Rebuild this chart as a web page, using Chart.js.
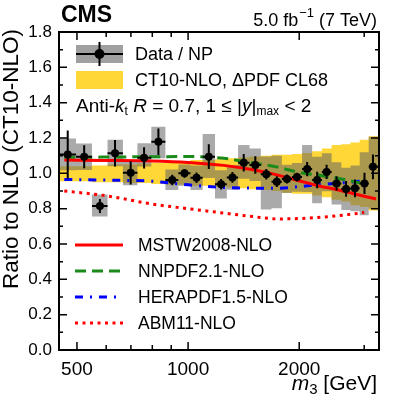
<!DOCTYPE html>
<html>
<head>
<meta charset="utf-8">
<script src="https://cdn.jsdelivr.net/npm/chart.js@4.4.1/dist/chart.umd.min.js"></script>
<style>
  html, body { margin: 0; padding: 0; background: #fff; }
  #wrap { width: 399px; height: 399px; }
</style>
</head>
<body>
<div id="wrap"><canvas id="ratioChart"></canvas></div>
<script>
// m3 bins [GeV]
const binEdges = [447, 497, 549, 605, 666, 729, 795, 868, 941, 1015, 1095, 1183, 1273, 1366,
  1467, 1574, 1683, 1795, 1912, 2036, 2168, 2304, 2448, 2601, 2754, 2917, 3085, 3290];
const binCenters = [472, 523, 577, 634, 699, 760, 831, 906, 978, 1054, 1138, 1229, 1319, 1415,
  1521, 1629, 1739, 1853, 1972, 2102, 2237, 2373, 2525, 2679, 2832, 3005, 3168];

// data / NP over CT10-NLO
const dataRatio = [1.107, 1.094, 0.815, 1.113, 1.003, 1.088, 1.179, 0.962, 1.0, 0.975, 1.094, 0.938, 0.977, 1.06,
  1.047, 0.995, 0.953, 0.968, 0.979, 1.024, 0.962, 1.008, 0.943, 0.912, 0.915, 0.943, 1.037];
const statErr = [0.136, 0.065, 0.04, 0.075, 0.066, 0.06, 0.075, 0.03, 0.025, 0.03, 0.07, 0.03, 0.03, 0.05,
  0.05, 0.03, 0.03, 0.025, 0.025, 0.04, 0.047, 0.04, 0.04, 0.045, 0.05, 0.06, 0.07];
const sysUp = [0.09, 0.075, 0.065, 0.077, 0.072, 0.082, 0.085, 0.06, 0.05, 0.07, 0.128, 0.08, 0.07, 0.1,
  0.093, 0.1, 0.147, 0.08, 0.08, 0.136, 0.132, 0.105, 0.12, 0.12, 0.13, 0.177, 0.17];
const sysDown = [0.09, 0.075, 0.06, 0.073, 0.07, 0.05, 0.094, 0.057, 0.07, 0.07, 0.12, 0.08, 0.07, 0.09,
  0.09, 0.2, 0.15, 0.08, 0.083, 0.13, 0.132, 0.11, 0.12, 0.12, 0.13, 0.18, 0.237];

// CT10-NLO PDF uncertainty (CL68)
const pdfLow = [0.955, 0.955, 0.95, 0.95, 0.945, 0.945, 0.94, 0.935, 0.935, 0.93, 0.93, 0.925, 0.92, 0.915,
  0.91, 0.905, 0.9, 0.89, 0.885, 0.885, 0.875, 0.865, 0.85, 0.84, 0.82, 0.81, 0.79];
const pdfHigh = [1.04, 1.04, 1.045, 1.05, 1.05, 1.055, 1.06, 1.07, 1.07, 1.075, 1.075, 1.08, 1.085, 1.09,
  1.095, 1.1, 1.105, 1.105, 1.11, 1.115, 1.125, 1.14, 1.16, 1.165, 1.175, 1.19, 1.21];

// other PDF sets / CT10-NLO
const theoryMass = [462, 600, 800, 1000, 1250, 1500, 1750, 2000, 2250, 2500, 2750, 3000, 3230];
const mstw   = [1.075, 1.073, 1.07, 1.062, 1.045, 1.02, 0.99, 0.958, 0.93, 0.91, 0.89, 0.87, 0.855];
const nnpdf  = [1.09, 1.092, 1.094, 1.095, 1.085, 1.058, 1.035, 1.005, 0.99, 0.975, 0.958, 0.94, null];
const herapdf = [0.965, 0.962, 0.955, 0.935, 0.92, 0.916, 0.915, 0.925, 0.935, 0.942, 0.95, 0.957, null];
const abm11  = [0.9, 0.873, 0.826, 0.8, 0.775, 0.755, 0.742, 0.744, 0.75, 0.758, 0.768, 0.778, null];

const xMajorTicks = [500, 1000, 2000];
const xMinorTicks = [600, 700, 800, 900, 3000];

function stepBand(values) {
  const pts = [];
  values.forEach((v, i) => {
    pts.push({x: binEdges[i], y: v}, {x: binEdges[i + 1], y: v});
  });
  return pts;
}
function curve(values) {
  return theoryMass.map((m, i) => ({x: m, y: values[i]}));
}

const errBars = [];
dataRatio.forEach((v, i) => {
  const c = binCenters[i];
  errBars.push({x: c, y: v - statErr[i]}, {x: c, y: v + statErr[i]}, {x: c, y: null});
  errBars.push({x: binEdges[i], y: v}, {x: binEdges[i + 1], y: v}, {x: binEdges[i + 1], y: null});
});

const YELLOW = '#ffd736';
const GRAY = 'rgba(100,100,100,0.55)';

const decor = {
  id: 'decor',
  afterDraw(chart) {
    const {ctx, chartArea: a, scales: {x, y}} = chart;
    ctx.save();
    ctx.strokeStyle = '#000';
    ctx.fillStyle = '#000';

    // inward ticks, all four sides
    ctx.lineWidth = 1.5;
    ctx.beginPath();
    const xt = xMajorTicks.map(v => [v, 8]).concat(xMinorTicks.map(v => [v, 5]));
    xt.forEach(([v, len]) => {
      const px = x.getPixelForValue(v);
      ctx.moveTo(px, a.bottom); ctx.lineTo(px, a.bottom - len);
      ctx.moveTo(px, a.top); ctx.lineTo(px, a.top + len);
    });
    for (let k = 1; k < 18; k++) {
      const py = y.getPixelForValue(k / 10);
      const len = k % 2 === 0 ? 8 : 4;
      ctx.moveTo(a.left, py); ctx.lineTo(a.left + len, py);
      ctx.moveTo(a.right, py); ctx.lineTo(a.right - len, py);
    }
    ctx.stroke();

    // frame
    ctx.lineWidth = 2;
    ctx.strokeRect(a.left, a.top, a.right - a.left, a.bottom - a.top);

    const F = 'Liberation Sans, Arial, sans-serif';

    // header
    ctx.textBaseline = 'alphabetic';
    ctx.textAlign = 'left';
    ctx.font = 'bold 23px ' + F;
    ctx.fillText('CMS', 61, 22);

    ctx.textAlign = 'right';
    ctx.font = '18px ' + F;
    let rx = 377;
    ctx.fillText(' (7 TeV)', rx, 26);
    rx -= ctx.measureText(' (7 TeV)').width;
    ctx.font = '13px ' + F;
    ctx.fillText('\u22121', rx, 17);
    rx -= ctx.measureText('\u22121').width + 1;
    ctx.font = '18px ' + F;
    ctx.fillText('5.0 fb', rx, 26);

    // x title
    ctx.font = '21px ' + F;
    rx = 377;
    ctx.fillText(' [GeV]', rx, 390);
    rx -= ctx.measureText(' [GeV]').width;
    ctx.font = '15px ' + F;
    ctx.fillText('3', rx, 394);
    rx -= ctx.measureText('3').width;
    ctx.font = 'italic 21px ' + F;
    ctx.fillText('m', rx, 390);

    // y title
    ctx.save();
    ctx.translate(12, 29);
    ctx.rotate(-Math.PI / 2);
    ctx.textAlign = 'right';
    ctx.textBaseline = 'middle';
    ctx.font = '22.5px ' + F;
    ctx.fillText('Ratio to NLO (CT10-NLO)', 0, 0);
    ctx.restore();

    // upper legend
    ctx.textAlign = 'left';
    ctx.textBaseline = 'middle';
    ctx.fillStyle = '#a0a0a0';
    ctx.fillRect(76, 45, 47, 18);
    ctx.strokeStyle = '#000';
    ctx.lineWidth = 2;
    ctx.beginPath();
    ctx.moveTo(76, 54); ctx.lineTo(123, 54);
    ctx.moveTo(99.5, 42); ctx.lineTo(99.5, 66);
    ctx.stroke();
    ctx.fillStyle = '#000';
    ctx.beginPath(); ctx.arc(99.5, 54, 5, 0, Math.PI * 2); ctx.fill();
    ctx.fillStyle = YELLOW;
    ctx.fillRect(76, 71, 47, 18);
    ctx.fillStyle = '#000';
    ctx.font = '18px ' + F;
    ctx.fillText('Data / NP', 135, 55);
    ctx.fillText('CT10-NLO, \u0394PDF CL68', 135, 81);

    // jet selection line
    const parts = [
      ['Anti-', '', 19, 0], ['k', 'italic ', 19, 0], ['t', '', 12, 5], [' ', '', 19, 0],
      ['R', 'italic ', 19, 0], [' = 0.7, 1 \u2264 |', '', 19, 0], ['y', 'italic ', 19, 0],
      ['|', '', 19, 0], ['max', '', 12, 5], [' < 2', '', 19, 0]
    ];
    let lx = 76;
    parts.forEach(([t, st, sz, dy]) => {
      ctx.font = st + sz + 'px ' + F;
      ctx.fillText(t, lx, 107 + dy);
      lx += ctx.measureText(t).width;
    });

    // lower legend (theory curves)
    const lower = [
      ['MSTW2008-NLO', '#ff0000', []],
      ['NNPDF2.1-NLO', '#1a8a1a', [11, 6]],
      ['HERAPDF1.5-NLO', '#0000ff', [8, 7, 2, 7]],
      ['ABM11-NLO', '#ff0000', [3, 4.5]]
    ];
    ctx.font = '17.5px ' + F;
    lower.forEach(([label, col, dash], i) => {
      const ly = 245 + i * 26;
      ctx.strokeStyle = col;
      ctx.lineWidth = 3;
      ctx.setLineDash(dash);
      ctx.beginPath(); ctx.moveTo(75, ly); ctx.lineTo(123, ly); ctx.stroke();
      ctx.setLineDash([]);
      ctx.fillStyle = '#000';
      ctx.fillText(label, 138, ly + 1);
    });
    ctx.restore();
  }
};

new Chart(document.getElementById('ratioChart'), {
  type: 'line',
  data: {
    datasets: [
      {label: 'Data / NP', type: 'scatter', data: binCenters.map((c, i) => ({x: c, y: dataRatio[i]})),
        pointRadius: 4, pointBackgroundColor: '#000', pointBorderWidth: 0, showLine: false, order: 0},
      {label: 'errors', data: errBars, borderColor: '#000', borderWidth: 2, pointRadius: 0,
        spanGaps: false, order: 1},
      {label: 'MSTW2008-NLO', data: curve(mstw), borderColor: '#ff0000', borderWidth: 3,
        pointRadius: 0, cubicInterpolationMode: 'monotone', order: 2},
      {label: 'NNPDF2.1-NLO', data: curve(nnpdf), borderColor: '#1a8a1a', borderWidth: 3, borderDash: [11, 6],
        pointRadius: 0, cubicInterpolationMode: 'monotone', order: 3},
      {label: 'HERAPDF1.5-NLO', data: curve(herapdf), borderColor: '#0000ff', borderWidth: 3,
        borderDash: [8, 7, 2, 7], pointRadius: 0, cubicInterpolationMode: 'monotone', order: 4},
      {label: 'ABM11-NLO', data: curve(abm11), borderColor: '#ff0000', borderWidth: 3, borderDash: [3, 4.5],
        pointRadius: 0, cubicInterpolationMode: 'monotone', order: 5},
      {label: 'sys high', data: stepBand(dataRatio.map((v, i) => v + sysUp[i])), borderWidth: 0,
        pointRadius: 0, fill: '+1', backgroundColor: GRAY, order: 6},
      {label: 'sys low', data: stepBand(dataRatio.map((v, i) => v - sysDown[i])), borderWidth: 0,
        pointRadius: 0, order: 7},
      {label: 'CT10-NLO high', data: stepBand(pdfHigh), borderWidth: 0, pointRadius: 0,
        fill: '+1', backgroundColor: YELLOW, order: 8},
      {label: 'CT10-NLO low', data: stepBand(pdfLow), borderWidth: 0, pointRadius: 0, order: 9}
    ]
  },
  options: {
    responsive: true,
    maintainAspectRatio: false,
    animation: false,
    layout: {padding: {top: 32, right: 20, left: 0, bottom: 0}},
    plugins: {legend: {display: false}, tooltip: {enabled: false}},
    scales: {
      x: {
        type: 'logarithmic', min: 447, max: 3290,
        grid: {display: false, drawTicks: false}, border: {display: false},
        afterBuildTicks: s => { s.ticks = xMajorTicks.concat(xMinorTicks).map(v => ({value: v})); },
        afterFit: s => { s.height = 49; },
        ticks: {
          autoSkip: false, maxRotation: 0, padding: 8, color: '#000',
          font: {family: 'Liberation Sans', size: 19},
          callback: v => xMajorTicks.includes(v) ? String(v) : ''
        }
      },
      y: {
        min: 0, max: 1.8,
        grid: {display: false, drawTicks: false}, border: {display: false},
        afterFit: s => { s.width = 59; },
        ticks: {
          stepSize: 0.2, padding: 7, color: '#000',
          font: {family: 'Liberation Sans', size: 17},
          callback: v => v.toFixed(1)
        }
      }
    }
  },
  plugins: [decor]
});
</script>
</body>
</html>
